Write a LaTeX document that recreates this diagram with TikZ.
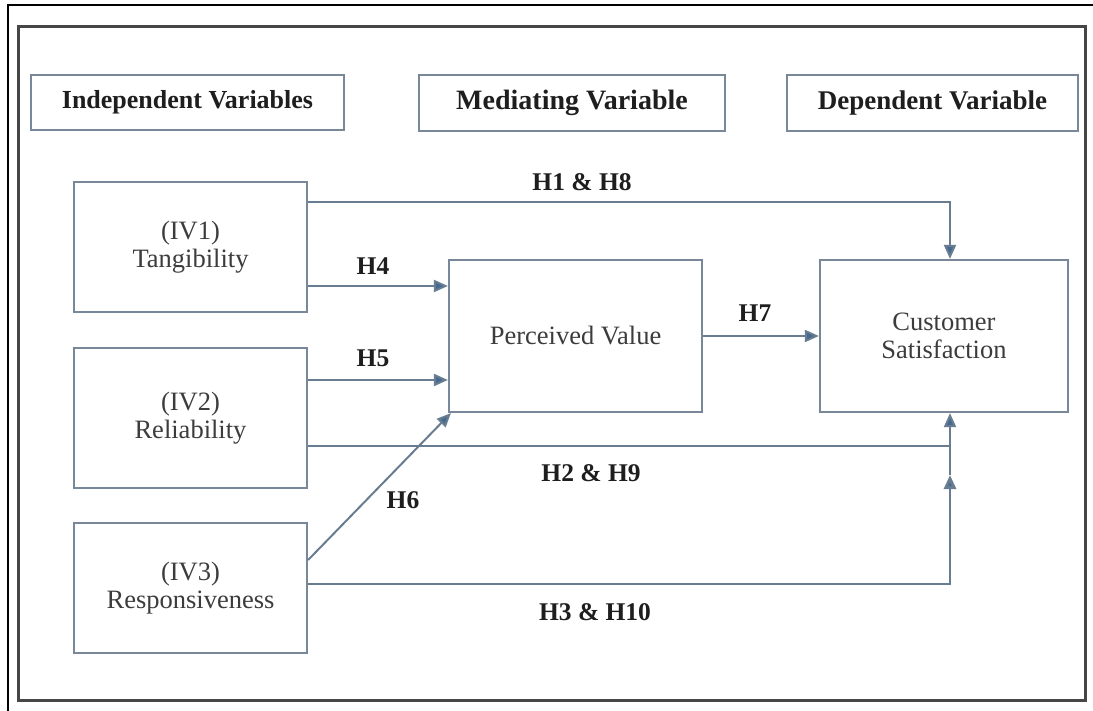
\documentclass[tikz,border=0pt]{standalone}
\usepackage{fontspec}
\setmainfont{Liberation Serif}
\usetikzlibrary{arrows.meta}
\definecolor{boxc}{RGB}{120,136,152}
\definecolor{linec}{RGB}{105,125,145}
\definecolor{arrc}{RGB}{70,105,145}
\definecolor{frame}{RGB}{70,70,70}
\definecolor{txtb}{RGB}{30,30,30}
\definecolor{txtr}{RGB}{60,60,60}
\tikzset{
  hdr/.style={draw=boxc, line width=2pt, inner sep=0pt, text=txtb, font=\bfseries\fontsize{26}{28}\selectfont},
  varbox/.style={draw=boxc, line width=2.2pt, inner sep=0pt, align=center, text=txtr, font=\fontsize{26.5}{28}\selectfont},
  hlab/.style={text=txtb, font=\bfseries\fontsize{25.5}{28}\selectfont, inner sep=0pt},
  conn/.style={draw=linec, line width=2pt},
  arr/.style={conn, -{Triangle[length=14pt,width=12pt,fill=arrc]}},
}
\begin{document}
\begin{tikzpicture}[x=1pt,y=-1pt]
\useasboundingbox (0,0) rectangle (1093,711);
\fill[white] (0,0) rectangle (1093,711);
% outer frame lines
\draw[black, line width=2pt] (8,711) -- (8,5) -- (1093,5);
% inner frame
\draw[frame, line width=3pt] (18,27) rectangle (1085,700);

% header boxes
\node[hdr, minimum width=313pt, minimum height=55pt] (hind) at (187.5,102.5) {Independent Variables};
\node[hdr, minimum width=306pt, minimum height=56pt, font=\bfseries\fontsize{28}{30}\selectfont] (hmed) at (572,103) {Mediating Variable};
\node[hdr, minimum width=291pt, minimum height=56pt, font=\bfseries\fontsize{27}{29}\selectfont] (hdep) at (932.5,103) {Dependent Variable};

% variable boxes
\node[varbox, minimum width=233pt, minimum height=130pt] (iv1) at (190.5,247) {(IV1)\\Tangibility};
\node[varbox, minimum width=233pt, minimum height=140pt] (iv2) at (190.5,418) {(IV2)\\Reliability};
\node[varbox, minimum width=233pt, minimum height=130pt] (iv3) at (190.5,588) {(IV3)\\Responsiveness};
\node[varbox, minimum width=253pt, minimum height=152pt] (pv) at (575.5,336) {Perceived Value};
\node[varbox, minimum width=248pt, minimum height=152pt] (cs) at (944,336) {Customer\\Satisfaction};

% helper coordinates
\coordinate (j1) at (950,202);
\coordinate (y4) at (0,286);
\coordinate (y5) at (0,380);
\coordinate (y6) at (0,560);
\coordinate (j2) at (950,446);
\coordinate (j3) at (950,584);
\coordinate (t3) at (950,475);

% connectors
\draw[arr] (iv1.east |- j1) -- (j1) -- (cs.north -| j1);
\draw[arr] (iv1.east |- y4) -- (pv.west |- y4);
\draw[arr] (iv2.east |- y5) -- (pv.west |- y5);
\draw[arr] (iv3.east |- y6) -- ([xshift=3pt]pv.south west);
\draw[arr] (pv.east) -- (cs.west);
\draw[arr] (iv2.east |- j2) -- (j2) -- (cs.south -| j2);
\draw[arr, line width=2.8pt] (iv3.east |- j3) -- (j3) -- (t3);
\draw[conn] (t3) -- (j2);

% labels
\node[hlab] (l18) at (582,182) {H1 \& H8};
\node[hlab] (l4) at (373,266) {H4};
\node[hlab] (l5) at (373,358) {H5};
\node[hlab] (l7) at (755,313) {H7};
\node[hlab] (l6) at (403,500) {H6};
\node[hlab] (l29) at (591,473) {H2 \& H9};
\node[hlab] (l310) at (595,612) {H3 \& H10};
\end{tikzpicture}
\end{document}
